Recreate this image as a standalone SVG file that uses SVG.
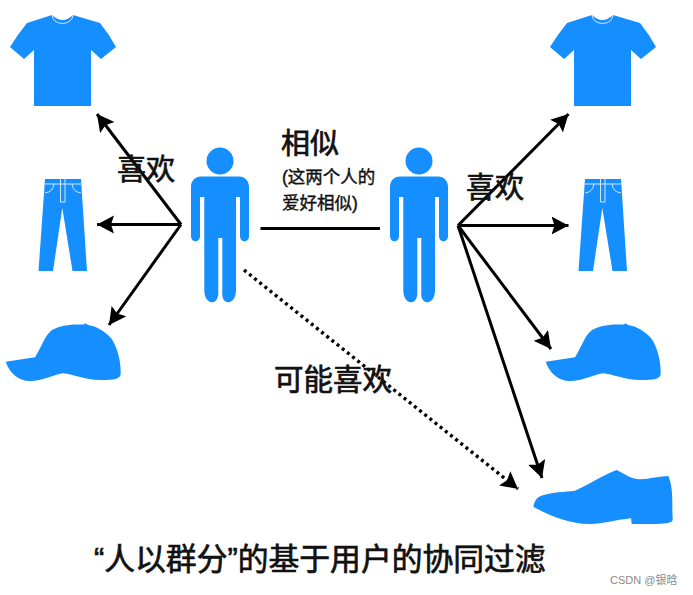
<svg xmlns="http://www.w3.org/2000/svg" width="693" height="595" viewBox="0 0 693 595">
<style>
.ico{fill:#158fff}
.det{fill:none;stroke:#cfe8ff;stroke-width:1}
.t{font-family:"Liberation Sans","Noto Sans CJK SC",sans-serif;fill:#111;stroke:#111;stroke-width:.7}
.h{stroke-width:.4}
.edge{fill:none;stroke:#000;stroke-width:3}
.dot{stroke-width:3.4;stroke-dasharray:3 3.6}
</style>
<defs>
<marker id="ah" markerUnits="userSpaceOnUse" markerWidth="20" markerHeight="20" refX="17" refY="9" orient="auto"><path d="M0 0L17 9L0 18L3 9Z" fill="#000"/></marker>
<g id="shirt">
<path class="ico" d="M52 15Q62.500 25 73 15L100 23Q109 34 116 47L101 59L91 50V106H34V50L24 59L10 47Q18 34 27 23Z"/>
<path class="det" d="M52 15Q53 23 62.500 23.500Q72 23 73 15"/>
</g>
<g id="pants">
<path class="ico" d="M45 179H81L87 271H72.500L62.300 208L53 271H38.500Z"/>
<path class="det" d="M45 184H81M45 193Q53 192 54 184M81 193Q73 192 72 184M60.500 179V202H65V179"/>
</g>
<path id="cap" class="ico" d="M5.700 361.700L35 357.300C42 346 45 335 52 330C60 325 72 324 83 324.500L86 323.500L88 325C97 326 108 333 113 341C118 350 121 362 120.700 374C120 379 115 380 100 380C85 380 72 374 63 373.300C52 375 43 381 30 381C18 381 9 372 5.700 361.700Z"/>
<g id="person">
<circle class="ico" cx="220" cy="161" r="13.500"/>
<path class="ico" d="M201 176.500H239C245 176.500 249 181 249 187V236C249 243 240 243 240 236V197H236V290C236 306 221 306 222.300 292V238H218.300V292C219 306 204.300 306 204.300 290V197H200V236C200 243 191 243 191 236V187C191 181 195 176.500 201 176.500Z"/>
</g>
</defs>
<rect width="693" height="595" fill="#fff"/>
<g id="connectors">
<path class="edge" marker-end="url(#ah)" d="M181 224.500L97 114"/>
<path class="edge" marker-end="url(#ah)" d="M181 224.500H97"/>
<path class="edge" marker-end="url(#ah)" d="M181 224.500L109 325"/>
<path class="edge" d="M260.500 228.500H380"/>
<path class="edge" marker-end="url(#ah)" d="M458 225.500L568.500 114"/>
<path class="edge" marker-end="url(#ah)" d="M458 225.500H568.500"/>
<path class="edge" marker-end="url(#ah)" d="M458 225.500L551 349"/>
<path class="edge" marker-end="url(#ah)" d="M458 225.500L542 478"/>
<path class="edge dot" marker-end="url(#ah)" d="M244 270L518 489"/>
</g>
<g id="shirt-left"><use href="#shirt"/></g>
<g id="pants-left"><use href="#pants"/></g>
<g id="cap-left"><use href="#cap"/></g>
<g id="user-left"><use href="#person"/></g>
<g id="user-right"><use href="#person" x="199"/></g>
<g id="shirt-right"><use href="#shirt" x="540"/></g>
<g id="pants-right"><use href="#pants" x="540"/></g>
<g id="cap-right"><use href="#cap" x="540"/></g>
<g id="shoe"><path class="ico" d="M533.300 506.700C535 500 537 497 542 495.500C552 492 565 492 575 490.700C590 484 605 474 616.700 470C625 474 630 479 640 479.300C650 479 660 476 668.300 476C672 484 672.500 495 672.300 509L672.700 520C672 523 665 524 650 524H631.700L631 518.300C615 520 603 524 590 524C570 524 550 516 533.300 506.700Z"/></g>
<g id="labels">
<text class="t" x="117" y="180" font-size="29">喜欢</text>
<text class="t" x="281" y="154" font-size="29">相似</text>
<text class="t h" x="282" y="183" font-size="17.500">(这两个人的</text>
<text class="t h" x="282" y="209" font-size="17.500">爱好相似)</text>
<text class="t" x="466" y="198" font-size="29">喜欢</text>
<text class="t" x="274" y="390" font-size="29.500">可能喜欢</text>
<text class="t" x="94" y="570" font-size="30.800">“人以群分”的基于用户的协同过滤</text>
<text x="610" y="584" font-size="11" fill="#8a8a8a" font-family="'Liberation Sans','Noto Sans CJK SC',sans-serif">CSDN @银晗</text>
</g>
</svg>
